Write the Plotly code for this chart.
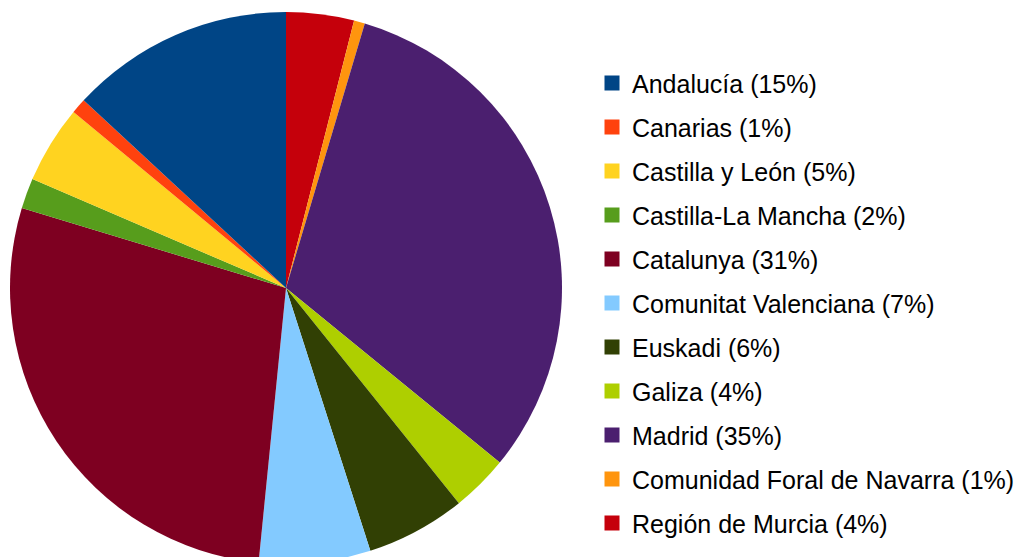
import plotly.graph_objects as go

regions = ["Andalucía", "Canarias", "Castilla y León", "Castilla-La Mancha", "Catalunya",
           "Comunitat Valenciana", "Euskadi", "Galiza", "Madrid",
           "Comunidad Foral de Navarra", "Región de Murcia"]
legend_pct = [15, 1, 5, 2, 31, 7, 6, 4, 35, 1, 4]
values = [13.1, 0.89, 4.56, 1.78, 28.1, 6.53, 5.83, 3.33, 31.3, 0.64, 3.97]
colors = ["#004586", "#ff420e", "#ffd320", "#579d1c", "#7e0021", "#83caff",
          "#314004", "#aecf00", "#4b1f6f", "#ff950e", "#c5000b"]

labels = [f"{r} ({p}%)" for r, p in zip(regions, legend_pct)]

W, H = 1026, 576
FS = 25
item_h = FS * 1.3 + 3

fig = go.Figure()
# slices run counterclockwise from 12 o'clock in list order: draw the reversed list clockwise
fig.add_trace(go.Pie(
    labels=labels[::-1], values=values[::-1], sort=False, direction="clockwise",
    rotation=0, textinfo="none", hoverinfo="skip", showlegend=False,
    marker=dict(colors=colors[::-1], line=dict(width=0)),
    domain=dict(x=[10 / W, 562 / W], y=[1 - 564 / H, 1 - 12 / H]),
))
for lab, col in zip(labels, colors):
    fig.add_trace(go.Scatter(
        x=[None], y=[None], mode="markers", name=lab, legendgroup=lab,
        marker=dict(symbol="square", size=15, color=col, line=dict(width=0)),
        showlegend=True,
    ))

fig.update_layout(
    width=W, height=H,
    margin=dict(l=0, r=0, t=0, b=0),
    paper_bgcolor="white", plot_bgcolor="white",
    font=dict(family="Liberation Sans, Arial, sans-serif", size=FS, color="#000000"),
    xaxis=dict(visible=False), yaxis=dict(visible=False),
    legend=dict(x=592 / W, xanchor="left", y=1 - (83 - item_h / 2 - 5) / H, yanchor="top",
                traceorder="grouped", tracegroupgap=44 - item_h,
                font=dict(size=FS, color="#000000"), bgcolor="rgba(0,0,0,0)"),
)

fig.write_html("out.html", config={"displayModeBar": False},
               post_script="document.body.style.margin='0';document.body.style.overflow='hidden';")
